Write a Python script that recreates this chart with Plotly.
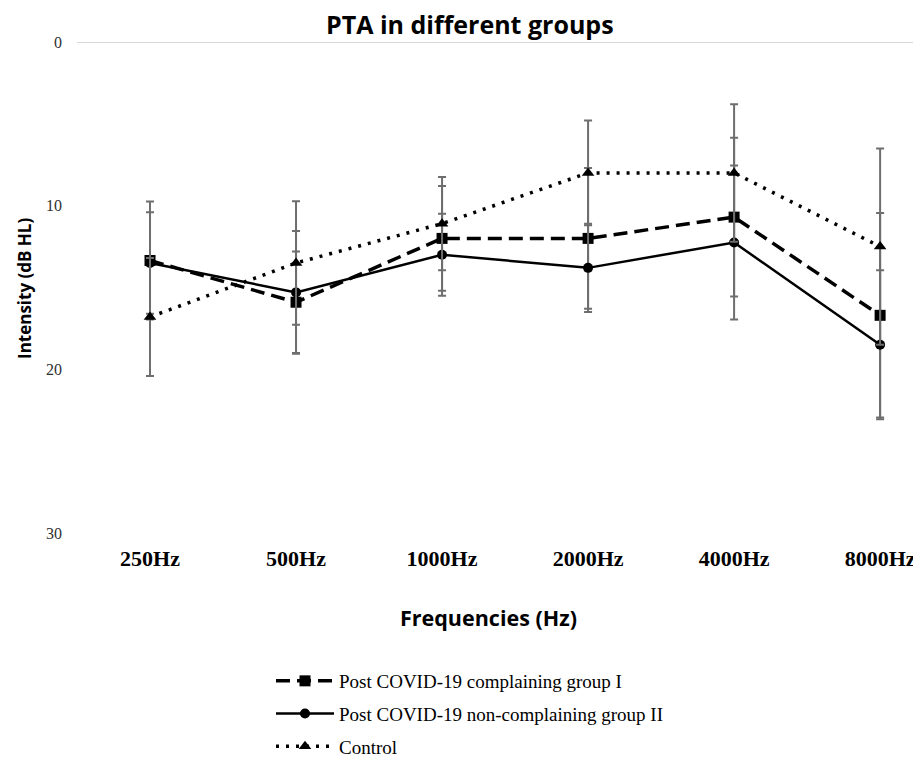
import plotly.graph_objects as go

categories = ["250Hz", "500Hz", "1000Hz", "2000Hz", "4000Hz", "8000Hz"]

group1_mean = [13.35, 15.9, 12.0, 12.0, 10.7, 16.7]
group1_sd = [3.6, 3.1, 3.2, 4.3, 4.85, 6.25]

group2_mean = [13.5, 15.3, 13.0, 13.8, 12.25, 18.5]
group2_sd = [3.1, 3.75, 2.5, 2.7, 4.7, 4.55]

control_mean = [16.8, 13.5, 11.1, 8.0, 8.0, 12.5]
control_sd = [3.6, 3.77, 2.85, 3.2, 4.2, 6.0]

y_ticks = [0, 10, 20, 30]

err_color = "#6e6e6e"

fig = go.Figure()

fig.add_trace(go.Scatter(
    x=categories, y=group1_mean, name="Post COVID-19 complaining group I",
    mode="lines+markers", legendgroup="g1",
    line=dict(color="black", width=3.5, dash="14px,7px"),
    marker=dict(symbol="square", size=11, color="black"),
    error_y=dict(type="data", array=group1_sd, color=err_color, thickness=2, width=4),
))
fig.add_trace(go.Scatter(
    x=categories, y=group2_mean, name="Post COVID-19 non-complaining group II",
    mode="lines+markers", legendgroup="g2",
    line=dict(color="black", width=2.5),
    marker=dict(symbol="circle", size=10, color="black"),
    error_y=dict(type="data", array=group2_sd, color=err_color, thickness=2, width=4),
))
fig.add_trace(go.Scatter(
    x=categories, y=control_mean, name="Control",
    mode="lines+markers", legendgroup="g3",
    line=dict(color="black", width=3.5, dash="3px,7px"),
    marker=dict(symbol="triangle-up", size=11, color="black"),
    error_y=dict(type="data", array=control_sd, color=err_color, thickness=2, width=4),
))

fig.add_shape(type="line", xref="paper", yref="y", x0=0, x1=1, y0=0, y1=0,
              line=dict(color="#d9d9d9", width=2), layer="below")

# page body has an 8px margin: figure coords = window coords - 8
OFF = 8
plot_l, plot_r, plot_t, plot_b = 77 - OFF, 921 - OFF, 42 - OFF, 533 - OFF
W, H = 921 - OFF, 759 - OFF
pw, ph = plot_r - plot_l, plot_b - plot_t


def px(x):
    return (x - OFF - plot_l) / pw


def py(y):
    return (plot_b - (y - OFF)) / ph


fig.update_layout(
    width=W, height=H,
    margin=dict(l=plot_l, r=W - plot_r, t=plot_t, b=H - plot_b, pad=0, autoexpand=False),
    paper_bgcolor="white", plot_bgcolor="white",
    showlegend=True,
    legend=dict(
        orientation="v", x=px(271), xanchor="left", y=py(662), yanchor="top",
        font=dict(family="Liberation Serif", size=19, color="black"),
        itemwidth=58, tracegroupgap=5, bgcolor="rgba(0,0,0,0)",
    ),
    xaxis=dict(
        type="category", range=[-0.5, 5.28], showgrid=False, zeroline=False,
        showline=False, ticks="",
        tickfont=dict(family="Liberation Serif", size=22, color="black", weight="bold"),
        ticklabelstandoff=10,
    ),
    yaxis=dict(
        range=[30, 0], tickvals=y_ticks, showgrid=False, zeroline=False,
        showline=False, ticks="",
        tickfont=dict(family="Liberation Serif", size=16, color="#303030"),
        ticklabelstandoff=14,
    ),
    annotations=[
        dict(text="<b>PTA in different groups</b>", x=px(470), y=py(24),
             font=dict(family="Open Sans", size=25, color="black")),
        dict(text="<b>Frequencies (Hz)</b>", x=px(488), y=py(617),
             font=dict(family="Open Sans", size=21.5, color="black")),
        dict(text="<b>Intensity (dB HL)</b>", x=px(24), y=py(289), textangle=-90,
             font=dict(family="Open Sans", size=17, color="black")),
    ],
)
for a in fig.layout.annotations:
    a.xref = "paper"; a.yref = "paper"; a.showarrow = False
    a.xanchor = "center"; a.yanchor = "middle"

fig.write_html("out.html")
